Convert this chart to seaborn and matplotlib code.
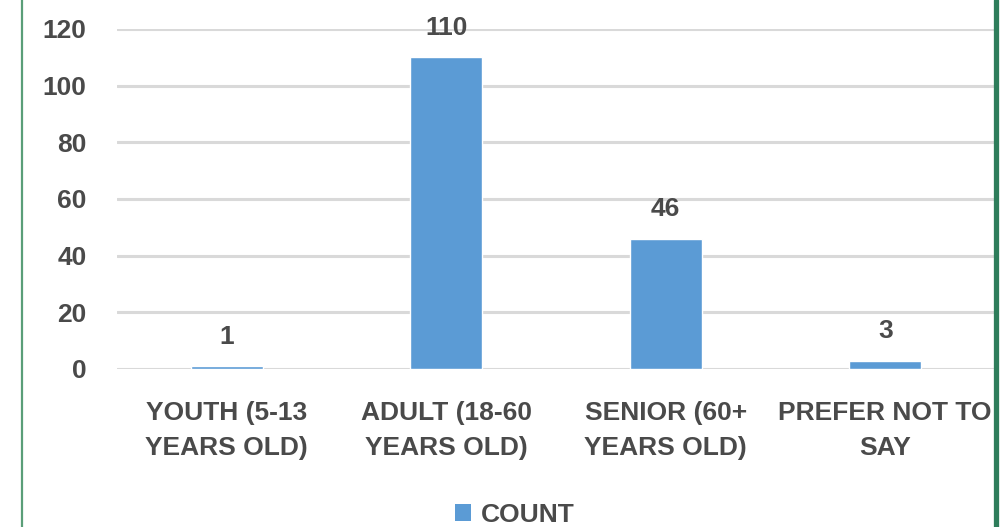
import matplotlib
matplotlib.use("Agg")
import matplotlib.pyplot as plt
from matplotlib.lines import Line2D
from matplotlib.patches import Patch
import seaborn as sns
import pandas as pd

categories = ["YOUTH (5-13\nYEARS OLD)", "ADULT (18-60\nYEARS OLD)",
              "SENIOR (60+\nYEARS OLD)", "PREFER NOT TO\nSAY"]
counts = [1, 110, 46, 3]
y_ticks = [0, 20, 40, 60, 80, 100, 120]
series_name = "COUNT"

df = pd.DataFrame({"category": categories, "count": counts})

sns.set_theme(style="white")
plt.rcParams["font.family"] = ["Liberation Sans", "DejaVu Sans"]

text_color = "#4a4a4a"
bar_color = "#5b9bd5"
grid_color = "#d9d9d9"
fsize = 19
fweight = "bold"

fig = plt.figure(figsize=(10.07, 5.27), dpi=100)
ax = fig.add_axes([117 / 1007, 1 - 369 / 527, (995 - 117) / 1007, (369 - 29) / 527])

sns.barplot(data=df, x="category", y="count", color=bar_color, width=0.33,
            saturation=1, ax=ax, zorder=3)

ax.set_ylim(0, 120)
ax.set_yticks(y_ticks)
ax.set_xlim(-0.5, 3.5)
ax.yaxis.grid(True, color=grid_color, linewidth=2.2, zorder=0)
ax.set_axisbelow(True)
for s in ax.spines.values():
    s.set_visible(False)
ax.tick_params(axis="both", length=0, labelsize=fsize, colors=text_color)
ax.tick_params(axis="y", pad=22)
ax.tick_params(axis="x", pad=23)
ax.set_xlabel("")
ax.set_ylabel("")
for lbl in ax.get_xticklabels() + ax.get_yticklabels():
    lbl.set_fontweight(fweight)
for lbl in ax.get_xticklabels():
    lbl.set_linespacing(1.58)

for i, v in enumerate(counts):
    ax.annotate(str(v), (i, v), xytext=(0, 21), textcoords="offset points",
                ha="center", va="center", fontsize=fsize, fontweight=fweight,
                color=text_color)

handle = Patch(facecolor=bar_color, edgecolor="none")
leg = fig.legend([handle], [series_name], loc="center",
                 bbox_to_anchor=(515 / 1007, 1 - 515 / 527),
                 frameon=False, fontsize=fsize, handlelength=0.6, handleheight=0.6,
                 handletextpad=0.4, labelcolor=text_color)
for t in leg.get_texts():
    t.set_fontweight(fweight)

# Frame edges on both sides
fig.add_artist(Line2D([22 / 1007, 22 / 1007], [0, 1], color="#5a9e78", linewidth=1.6,
                      transform=fig.transFigure))
fig.add_artist(Line2D([995.5 / 1007, 995.5 / 1007], [0, 1], color="#2e7d5b", linewidth=3.8,
                      transform=fig.transFigure))

fig.savefig("out.png", dpi=100, facecolor="white")
